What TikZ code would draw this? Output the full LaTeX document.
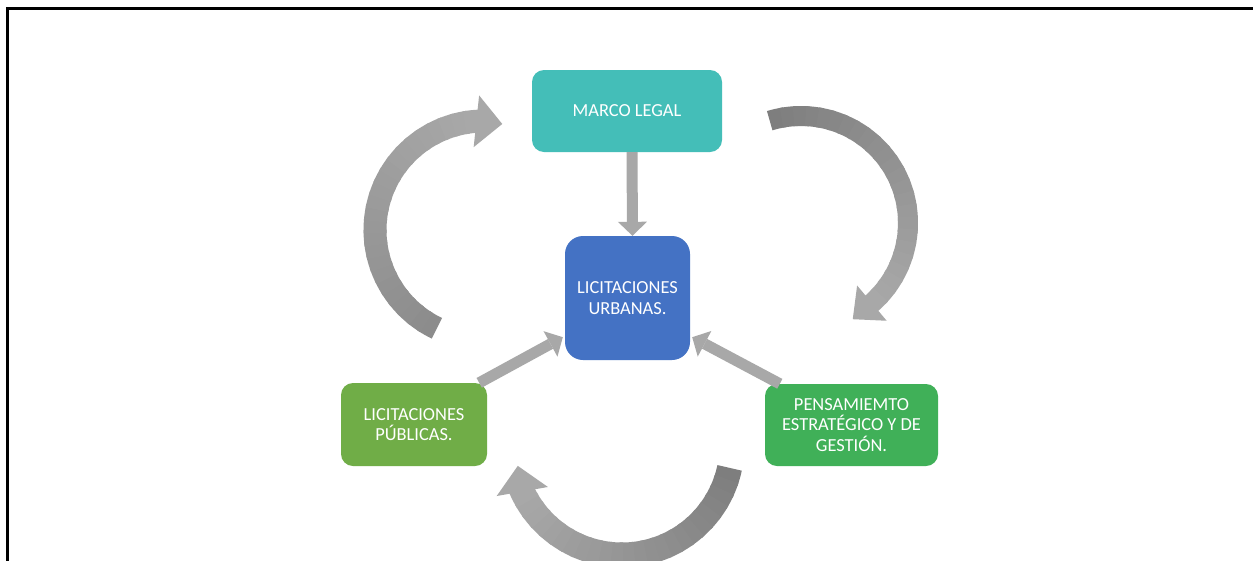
\documentclass[tikz,border=0pt]{standalone}
\usepackage{fontspec}
\setmainfont{Carlito}
\usetikzlibrary{arrows.meta,calc}
\definecolor{arrdarkA}{RGB}{140,140,140}
\definecolor{arrdarkB}{RGB}{126,126,126}
\definecolor{arrlight}{RGB}{168,168,168}
\definecolor{tealbox}{RGB}{68,190,184}
\definecolor{bluebox}{RGB}{68,114,196}
\definecolor{greenA}{RGB}{112,173,71}
\definecolor{greenB}{RGB}{64,176,88}
\newcommand{\tailcolour}{arrdarkB}
% curved block arrow: cx, cy, r, start angle, end angle, band width, head width, head length, head direction
\newcommand{\bentarrow}[9]{%
  \foreach \k in {0,...,23}{%
    \pgfmathsetmacro\sa{#4+(#5-#4)*\k/24}%
    \pgfmathsetmacro\ea{#4+(#5-#4)*(\k+1.3)/24}%
    \pgfmathtruncatemacro\pc{100-\k*100/23}%
    \draw[line width=#6, draw=\tailcolour!\pc!arrlight] plot[domain=\sa:\ea, samples=5] ({#1+#3*cos(\x)},{#2+#3*sin(\x)});
  }%
  \pgfmathsetmacro\bx{#1+#3*cos(#5)}%
  \pgfmathsetmacro\by{#2+#3*sin(#5)}%
  \pgfmathsetmacro\cf{cos(#9)}%
  \pgfmathsetmacro\sf{sin(#9)}%
  \fill[arrlight] ({\bx-#7/2*\sf},{\by+#7/2*\cf}) -- ({\bx+#8*\cf},{\by+#8*\sf}) -- ({\bx+#7/2*\sf},{\by-#7/2*\cf}) -- cycle;
}
\begin{document}
\begin{tikzpicture}[x=1pt,y=-1pt,
  box/.style={rounded corners=12pt, text=white, align=center, inner sep=0pt,
    font=\fontsize{18.4}{20.5}\selectfont},
  straight/.style={draw=arrlight, line width=11pt,
    -{Triangle[width=29pt,length=14pt,line width=0pt]}}]
\useasboundingbox (0,0) rectangle (1253,560);
\clip (0,0) rectangle (1253,560);
\fill[white] (0,0) rectangle (1253,560);
\draw[line width=3pt] (7,562) -- (7,8.5) -- (1256,8.5);

% curved arrows
\renewcommand{\tailcolour}{arrdarkA}
\bentarrow{484}{230}{109}{115.6}{266}{23}{52}{26}{6}
\renewcommand{\tailcolour}{arrdarkB}
\bentarrow{801}{223}{107}{-107}{48.5}{20}{46}{25}{140}
\bentarrow{622}{445}{110}{12}{155}{25}{52}{26}{-100}

% boxes
\node[box, fill=tealbox, minimum width=190pt, minimum height=82pt] (ml) at (627,111) {MARCO LEGAL};
\node[box, fill=bluebox, rounded corners=18pt, minimum width=125pt, minimum height=124pt] (lu) at (627.5,298) {LICITACIONES\\URBANAS.};
\node[box, fill=greenA, minimum width=146pt, minimum height=83pt] (lp) at (414,424.5) {LICITACIONES\\PÚBLICAS.};
\node[box, fill=greenB, minimum width=173pt, minimum height=82pt] (pe) at (851.5,425) {PENSAMIEMTO\\ESTRATÉGICO Y DE\\GESTIÓN.};

% straight arrows
\draw[straight] ($(ml.south)+(5,0)$) -- ($(lu.north)+(5,0)$);
\draw[straight] ($(lp.north east)+(-8,0)$) -- ($(lu.south west)+(-2,-23)$);
\draw[straight] ($(pe.north west)+(15,0)$) -- ($(lu.south east)+(2,-23)$);
\end{tikzpicture}
\end{document}
